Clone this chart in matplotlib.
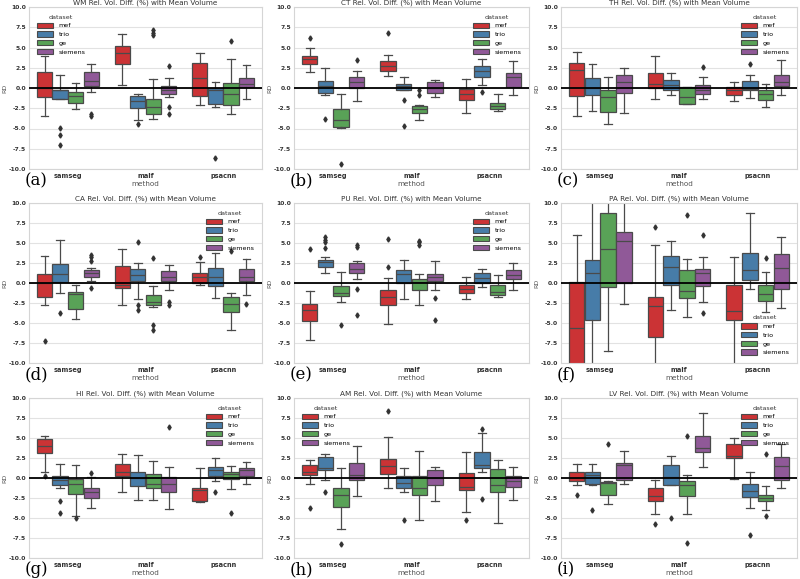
import colorsys

import matplotlib
matplotlib.use("Agg")
import matplotlib.pyplot as plt
from matplotlib.patches import Patch

methods = ["samseg", "malf", "psacnn"]
datasets = ["mef", "trio", "ge", "siemens"]
base_colors = ["#e41a1c", "#377eb8", "#4daf4a", "#984ea3"]
yticks = [10.0, 7.5, 5.0, 2.5, 0.0, -2.5, -5.0, -7.5, -10.0]

# box stats per panel: (whislo, q1, med, q3, whishi), order = method x dataset
WM_BOXES = [(-3.4, -1.15, 0.0, 1.95, 4.0), (-1.4, -1.3, -0.3, -0.2, 1.6), (-2.6, -1.8, -1.0, -0.5, 0.6), (-0.5, 0.2, 0.9, 2.0, 3.0),
            (0.4, 2.95, 4.3, 5.15, 6.7), (-3.9, -2.5, -1.6, -1.0, -0.8), (-3.8, -3.2, -2.3, -1.3, 1.1), (-1.1, -0.7, -0.2, 0.3, 1.2),
            (-2.1, -1.0, 1.2, 3.1, 4.3), (-2.3, -2.0, -0.3, 0.0, 0.8), (-3.2, -2.1, -0.7, 0.6, 3.6), (-1.4, 0.1, 0.5, 1.2, 2.8)]
WM_FLIERS = [[], [-4.9, -5.8, -7.0], [], [-3.2, -3.5],
             [], [-4.5], [6.5, 6.8, 7.1], [2.7, -2.3, -3.2],
             [], [-8.6], [5.8], []]

CT_BOXES = [(2.0, 3.0, 3.6, 3.95, 5.0), (-0.9, -0.6, 0.3, 0.9, 2.5), (-4.9, -4.8, -3.9, -2.6, -0.7), (-1.6, 0.0, 0.7, 1.4, 2.1),
            (1.5, 2.1, 2.7, 3.3, 4.1), (-0.2, -0.2, 0.2, 0.5, 1.3), (-3.9, -3.1, -2.6, -2.2, -2.1), (-1.1, -0.6, 0.0, 0.8, 1.0),
            (-3.1, -1.5, -0.7, -0.1, 1.1), (0.4, 1.4, 2.1, 2.7, 3.6), (-2.9, -2.6, -2.2, -1.8, -0.7), (-0.9, 0.1, 1.3, 1.8, 3.3)]
CT_FLIERS = [[6.2], [-3.8], [-9.4], [3.4],
             [6.8], [-1.5, -4.7], [-0.3, -0.9], [],
             [], [-0.5], [], []]

TH_BOXES = [(-3.5, -0.95, 2.2, 3.1, 4.4), (-2.9, -0.9, 0.0, 1.2, 3.0), (-4.5, -3.0, -1.1, -0.2, 1.4), (-3.1, -0.6, 0.8, 1.6, 2.5),
            (-1.4, 0.0, 0.5, 1.9, 4.0), (-0.9, -0.2, 0.4, 1.0, 1.9), (-2.0, -2.0, -1.1, 0.1, 0.1), (-1.4, -0.7, -0.2, 0.4, 1.4),
            (-1.6, -0.85, -0.2, 0.1, 0.7), (-1.2, -0.3, -0.1, 0.9, 1.6), (-2.4, -1.5, -0.8, -0.2, 0.5), (-0.9, 0.2, 0.8, 1.6, 3.4)]
TH_FLIERS = [[], [], [], [],
             [], [], [], [2.6],
             [], [3.0], [], []]

CA_BOXES = [(-2.8, -1.7, 0.0, 1.1, 3.4), (-1.3, 0.1, 1.1, 2.4, 5.4), (-4.5, -3.3, -1.4, -1.1, -0.3), (0.3, 0.7, 1.3, 1.6, 1.9),
            (-2.8, -0.6, -0.3, 2.1, 4.2), (-2.0, 0.2, 1.0, 1.8, 2.5), (-3.0, -2.8, -2.4, -1.5, -0.4), (-0.9, 0.3, 0.8, 1.5, 2.2),
            (-0.3, 0.0, 0.7, 1.3, 2.6), (-1.9, -0.35, 0.7, 1.9, 3.8), (-5.9, -3.6, -2.6, -1.7, -1.2), (-1.5, 0.3, 0.7, 1.8, 3.0)]
CA_FLIERS = [[-7.3], [-3.7], [], [3.5, 3.2, 2.8, -0.6],
             [], [5.1, -2.8, -3.4], [3.1, -5.2, -5.9], [-2.4, -2.7],
             [3.2], [], [4.0], [-2.6]]

PU_BOXES = [(-7.1, -4.8, -3.4, -2.6, -1.0), (1.3, 2.0, 2.6, 2.9, 3.2), (-2.4, -1.6, -1.2, -0.4, 1.4), (0.5, 1.2, 1.7, 2.5, 2.7),
            (-5.1, -2.7, -1.8, -0.9, 0.6), (-2.0, 0.0, 1.1, 1.6, 2.9), (-2.7, -0.9, 0.1, 0.5, 1.1), (-0.9, 0.2, 0.8, 1.1, 2.7),
            (-2.0, -1.2, -0.7, -0.2, 0.8), (-0.5, 0.0, 0.6, 1.2, 1.7), (-1.8, -1.5, -1.1, -0.3, 1.0), (-0.9, 0.5, 1.0, 1.6, 2.5)]
PU_FLIERS = [[4.2], [4.4, 5.1, 5.4, 5.7], [-5.2], [4.7, 4.5, -0.8, -4.0],
             [5.5, 2.0], [], [5.3, 5.1, 4.8], [-1.9, -4.6],
             [], [], [], []]

PA_BOXES = [(-14.0, -10.8, -5.6, 0.1, 6.0), (-12.0, -4.6, 1.3, 2.9, 12.0), (-8.5, -0.5, 4.3, 8.7, 11.0), (-2.6, 0.0, 5.3, 6.4, 12.0),
            (-12.0, -6.7, -2.9, -1.8, 4.8), (-3.4, -0.3, 2.0, 3.4, 5.2), (-4.2, -1.9, -1.0, 1.6, 3.0), (-2.4, -0.4, 1.2, 1.7, 3.3),
            (-12.0, -4.6, -3.5, -0.2, 3.2), (-0.7, 0.4, 1.6, 3.8, 8.8), (-3.6, -2.3, -1.4, -0.2, 1.4), (-3.1, -0.8, 1.9, 3.6, 5.7)]
PA_FLIERS = [[], [], [], [],
             [7.0], [], [8.5], [6.0, -3.8],
             [], [], [3.1], []]

HI_BOXES = [(0.8, 3.1, 4.0, 4.9, 5.3), (-1.3, -0.9, -0.3, 0.2, 1.7), (-4.8, -2.0, -0.7, -0.1, 1.6), (-3.8, -2.5, -1.7, -1.3, 0.1),
            (-1.8, 0.3, 0.8, 1.8, 3.0), (-2.7, -1.0, 0.0, 0.8, 2.9), (-2.7, -1.2, -0.7, 0.5, 2.1), (-3.9, -1.8, -0.8, 0.1, 1.4),
            (-3.0, -2.9, -1.5, -1.2, 1.3), (-0.4, 0.3, 1.0, 1.4, 2.5), (-1.4, -0.1, 0.5, 0.8, 1.5), (-0.7, 0.3, 1.0, 1.2, 2.0)]
HI_FLIERS = [[0.3], [-2.9, -4.4], [-5.0], [0.6],
             [], [], [], [6.4],
             [], [-1.7], [-4.4], []]

AM_BOXES = [(-0.8, 0.4, 0.8, 1.6, 2.3), (-0.3, 1.0, 1.3, 2.6, 3.0), (-6.4, -3.6, -2.1, -1.3, 1.3), (-2.2, -0.3, 0.4, 1.9, 4.0),
            (-1.2, 0.5, 1.5, 2.4, 5.1), (-1.7, -1.3, -0.6, 0.3, 1.3), (-5.2, -2.1, -1.2, 0.2, 3.4), (-2.9, -0.9, 0.0, 1.0, 1.4),
            (-4.3, -1.5, -1.1, 0.6, 3.3), (0.8, 1.3, 1.6, 3.2, 5.6), (-5.6, -1.7, -0.9, 1.1, 2.3), (-2.8, -1.1, -0.4, 0.2, 1.4)]
AM_FLIERS = [[-3.7], [-1.8], [-8.3], [],
             [8.4], [-5.3], [], [],
             [-5.2], [6.1, -2.6], [], []]

LV_BOXES = [(-0.9, -0.4, 0.0, 0.7, 1.8), (-0.9, -0.8, 0.4, 0.7, 1.8), (-3.3, -2.1, -0.6, -0.5, -0.4), (-0.8, -0.3, 1.6, 1.9, 3.4),
            (-4.5, -2.9, -2.3, -1.3, -0.3), (-0.9, -0.9, 0.1, 1.6, 2.7), (-4.5, -2.2, -0.9, -0.4, 0.4), (1.4, 3.2, 3.8, 5.2, 8.1),
            (-0.1, 2.5, 2.8, 4.3, 5.0), (-3.7, -2.4, -1.6, -0.7, 0.7), (-4.0, -2.9, -2.5, -2.1, -1.0), (-1.2, -0.3, 1.5, 2.6, 4.3)]
LV_FLIERS = [[-2.1], [-4.0], [4.2], [],
             [-5.8], [-5.0], [5.3, -8.1], [],
             [], [-7.1], [3.0, -4.7], []]

panels = [
    ("WM", WM_BOXES, WM_FLIERS, "upper left"),
    ("CT", CT_BOXES, CT_FLIERS, "upper right"),
    ("TH", TH_BOXES, TH_FLIERS, "upper right"),
    ("CA", CA_BOXES, CA_FLIERS, "upper right"),
    ("PU", PU_BOXES, PU_FLIERS, "upper right"),
    ("PA", PA_BOXES, PA_FLIERS, "lower right"),
    ("HI", HI_BOXES, HI_FLIERS, "upper right"),
    ("AM", AM_BOXES, AM_FLIERS, "upper left"),
    ("LV", LV_BOXES, LV_FLIERS, "upper right"),
]
letters = "abcdefghi"


def desaturate(color, prop=0.75):
    r, g, b = matplotlib.colors.to_rgb(color)
    h, l, s = colorsys.rgb_to_hls(r, g, b)
    return colorsys.hls_to_rgb(h, l, s * prop)


colors = [desaturate(c) for c in base_colors]
edge = "#4a4a4a"

fig = plt.figure(figsize=(8.0, 5.79), dpi=100)
W, H = 800.0, 579.0
col_px = [(29, 262), (294, 529), (561, 797)]
row_px = [(7, 169), (203, 363), (398, 558)]

for i, (name, boxes, fliers, legend_loc) in enumerate(panels):
    r, c = divmod(i, 3)
    x0, x1 = col_px[c]
    y0, y1 = row_px[r]
    ax = fig.add_axes([x0 / W, 1 - y1 / H, (x1 - x0) / W, (y1 - y0) / H])

    stats, positions, face = [], [], []
    for m in range(len(methods)):
        for d in range(len(datasets)):
            k = m * len(datasets) + d
            lo, q1, med, q3, hi = boxes[k]
            stats.append(dict(whislo=lo, q1=q1, med=med, q3=q3, whishi=hi, fliers=fliers[k]))
            positions.append(m - 0.3 + 0.2 * d)
            face.append(colors[d])

    art = ax.bxp(stats, positions=positions, widths=0.196, patch_artist=True, showcaps=True,
                 boxprops=dict(edgecolor=edge, linewidth=0.9),
                 medianprops=dict(color=edge, linewidth=0.9),
                 whiskerprops=dict(color=edge, linewidth=0.9),
                 capprops=dict(color=edge, linewidth=0.9),
                 flierprops=dict(marker="d", markersize=2.6, markerfacecolor="#333333",
                                 markeredgecolor="#333333", linestyle="none"))
    for patch, fc in zip(art["boxes"], face):
        patch.set_facecolor(fc)
    for cap in art["caps"]:
        xd = cap.get_xdata()
        mid = (xd[0] + xd[1]) / 2
        cap.set_xdata([mid - 0.05, mid + 0.05])

    ax.axhline(0, color="black", linewidth=1.3, zorder=5)
    ax.set_xlim(-0.5, 2.5)
    ax.set_ylim(-10, 10)
    ax.set_yticks(yticks)
    ax.set_yticklabels([f"{v:.1f}" for v in yticks], fontsize=4.3, fontweight="bold", color="#333333")
    ax.set_xticks(range(len(methods)))
    ax.set_xticklabels(methods, fontsize=4.8, fontweight="bold", color="#333333")
    ax.tick_params(axis="x", length=0, pad=3)
    ax.tick_params(axis="y", length=0, pad=2)
    ax.yaxis.grid(True, color="#e2e2e2", linewidth=0.8)
    ax.set_axisbelow(True)
    for sp in ax.spines.values():
        sp.set_color("#d5d5d5")
        sp.set_linewidth(0.8)
    ax.set_title(f"{name} Rel. Vol. Diff. (%) with Mean Volume", fontsize=5.2, color="#333333", pad=2)
    ax.set_xlabel("method", fontsize=5.2, color="#555555", labelpad=1)
    ax.set_ylabel("RD", fontsize=4.6, color="#555555", labelpad=1)

    handles = [Patch(facecolor=colors[d], edgecolor=edge, linewidth=0.8, label=datasets[d])
               for d in range(len(datasets))]
    leg = ax.legend(handles=handles, title="dataset", loc=legend_loc, fontsize=4.6,
                    title_fontsize=4.6, frameon=False, handlelength=2.6, handleheight=0.9,
                    labelspacing=0.45, borderaxespad=0.8)
    leg.get_title().set_color("#333333")

    fig.text((x0 - 4) / W, 1 - (y1 + 12) / H, f"({letters[i]})", fontsize=12,
             family="DejaVu Serif", ha="left", va="center")

fig.savefig("out.png", dpi=100)
